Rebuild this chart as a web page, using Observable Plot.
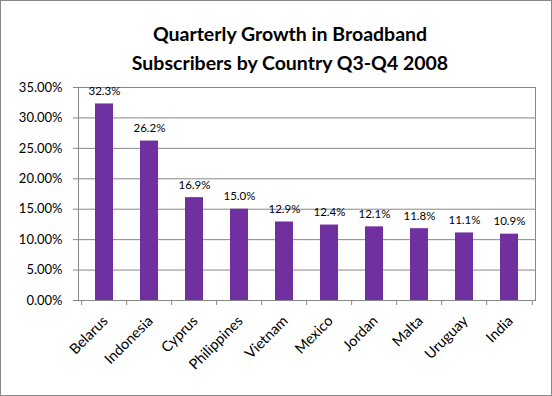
<!DOCTYPE html>
<html><head><meta charset="utf-8">
<script src="https://cdn.jsdelivr.net/npm/d3@7"></script>
<script src="https://cdn.jsdelivr.net/npm/@observablehq/plot@0.6"></script>
<style>
body{margin:0;background:#fff;}
#wrap{position:relative;width:552px;height:396px;font-family:Lato,"Open Sans",sans-serif;}
#title{position:absolute;left:0;width:580px;top:19px;text-align:center;font-weight:bold;font-size:19.5px;line-height:29px;color:#000;}
#border{position:absolute;left:0;top:0;width:550px;height:394px;border:1px solid #888;pointer-events:none;}
</style></head>
<body><div id="wrap"><div id="chart"></div><div id="title">Quarterly Growth in Broadband<br>Subscribers by Country Q3-Q4 2008</div><div id="border"></div></div>
<script>
const countries = ["Belarus","Indonesia","Cyprus","Philippines","Vietnam","Mexico","Jordan","Malta","Uruguay","India"];
const growth = [0.323,0.262,0.169,0.150,0.129,0.124,0.121,0.118,0.111,0.109];
const yTicks = [0,0.05,0.10,0.15,0.20,0.25,0.30,0.35];
const data = countries.map((c,i)=>({country:c, value:growth[i]}));

const W = 552, H = 396, mL = 78, mR = 17, mT = 87, mB = 96;
const bw = (W - mL - mR) / countries.length;

const chart = Plot.plot({
  width: W, height: H,
  marginLeft: mL, marginRight: mR, marginTop: mT, marginBottom: mB,
  style: {fontFamily: "Lato, 'Open Sans', sans-serif", background: "#fff", color: "#000"},
  x: {domain: countries, paddingInner: 0.6, paddingOuter: 0.3, label: null},
  y: {domain: [0, 0.35], label: null},
  marks: [
    Plot.gridY(yTicks, {stroke: "#888", strokeOpacity: 1}),
    Plot.frame({stroke: "#888"}),
    Plot.barY(data, {x: "country", y: "value", fill: "#7030A0"}),
    Plot.text(data, {x: "country", y: "value", text: d => (d.value*100).toFixed(1) + "%", dy: -9, lineAnchor: "bottom", fontSize: 11.5, fill: "#000"}),
    Plot.axisY(yTicks, {tickFormat: d3.format(".2%"), tickSize: 5, tickPadding: 11, fontSize: 13, stroke: "#888", strokeOpacity: 1}),
    Plot.axisX({tickRotate: -45, tickSize: 0, tickPadding: 18, fontSize: 14.5, dx: 1}),
    Plot.ruleX(data, {x: "country", y1: 0, y2: 0, dx: -bw/2, insetBottom: -5, stroke: "#888"}),
    Plot.ruleX(data.slice(-1), {x: "country", y1: 0, y2: 0, dx: bw/2, insetBottom: -5, stroke: "#888"})
  ]
});
document.getElementById("chart").appendChild(chart);
</script></body></html>
